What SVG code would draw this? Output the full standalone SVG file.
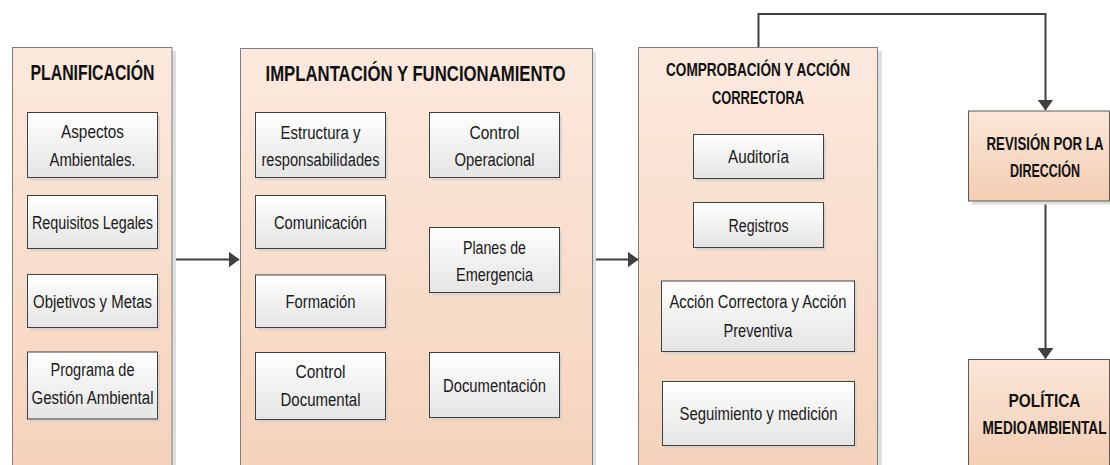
<svg xmlns="http://www.w3.org/2000/svg" width="1110" height="465" viewBox="0 0 1110 465">
<style>
.bg{fill:#ffffff}
.cont{fill:url(#gCont);stroke:#7f7f7f;stroke-width:1}
.csh{fill:#dedede}
.box{fill:url(#gBox);stroke:#404040;stroke-width:1}
.bsh{fill:#cfcfcf;opacity:0.7}
.pbox{fill:url(#gPeach);stroke:#5a5a5a;stroke-width:1}
.t{font-family:"Liberation Sans",Arial,sans-serif;font-size:18px;fill:#1a1a1a;text-anchor:middle}
.h{font-family:"Liberation Sans",Arial,sans-serif;font-weight:bold;fill:#111111;text-anchor:middle}
.h1{font-size:22px}
.h2{font-size:18px}
.conn{fill:none;stroke:#404040;stroke-width:2}
</style>
<defs>
<linearGradient id="gCont" x1="0" y1="0" x2="0" y2="1">
<stop offset="0" stop-color="#fce9de"/>
<stop offset="1" stop-color="#f5d3bc"/>
</linearGradient>
<linearGradient id="gBox" x1="0" y1="0" x2="0" y2="1">
<stop offset="0" stop-color="#ffffff"/>
<stop offset="1" stop-color="#e4e4e4"/>
</linearGradient>
<linearGradient id="gPeach" x1="0" y1="0" x2="0" y2="1">
<stop offset="0" stop-color="#fbe6d8"/>
<stop offset="1" stop-color="#f3cdb3"/>
</linearGradient>
<marker id="arr" markerUnits="userSpaceOnUse" markerWidth="11" markerHeight="16" viewBox="0 0 11 16" refX="10.5" refY="8" orient="auto">
<path d="M0,0 L11,8 L0,16 z" fill="#404040"/>
</marker>
</defs>
<rect class="bg" x="0" y="0" width="1110" height="465"/>

<g id="connectors">
<path class="conn" d="M172,259.5 H239" marker-end="url(#arr)"/>
<path class="conn" d="M593,259.5 H638" marker-end="url(#arr)"/>
<path class="conn" d="M758.5,47 V14 H1045.5 V110" marker-end="url(#arr)"/>
<path class="conn" d="M1045.5,201 V358.5" marker-end="url(#arr)"/>
</g>

<g id="planificacion">
<rect class="csh" x="16" y="51" width="160" height="420"/>
<rect class="cont" x="12.5" y="47.5" width="159.5" height="420"/>
<text class="h h1" x="92.5" y="79.5" textLength="124" lengthAdjust="spacingAndGlyphs">PLANIFICACIÓN</text>
<g id="aspectos">
<rect class="bsh" x="30" y="115.5" width="130" height="65"/>
<rect class="box" x="27.5" y="112.5" width="130" height="65"/>
<text class="t" x="92.5" y="138" textLength="63" lengthAdjust="spacingAndGlyphs">Aspectos</text>
<text class="t" x="92.5" y="166" textLength="86" lengthAdjust="spacingAndGlyphs">Ambientales.</text>
</g>
<g id="requisitos">
<rect class="bsh" x="30" y="198.5" width="130" height="53"/>
<rect class="box" x="27.5" y="195.5" width="130" height="53"/>
<text class="t" x="92.5" y="228.5" textLength="121" lengthAdjust="spacingAndGlyphs">Requisitos Legales</text>
</g>
<g id="objetivos">
<rect class="bsh" x="30" y="277.5" width="130" height="53"/>
<rect class="box" x="27.5" y="274.5" width="130" height="53"/>
<text class="t" x="92.5" y="307.5" textLength="119" lengthAdjust="spacingAndGlyphs">Objetivos y Metas</text>
</g>
<g id="programa">
<rect class="bsh" x="30" y="355" width="130" height="67"/>
<rect class="box" x="27.5" y="352" width="130" height="67"/>
<text class="t" x="92.5" y="376" textLength="84" lengthAdjust="spacingAndGlyphs">Programa de</text>
<text class="t" x="92.5" y="404" textLength="122" lengthAdjust="spacingAndGlyphs">Gestión Ambiental</text>
</g>
</g>

<g id="implantacion">
<rect class="csh" x="244" y="52" width="352" height="420"/>
<rect class="cont" x="240.5" y="48.5" width="352" height="420"/>
<text class="h h1" x="415.5" y="80.5" textLength="300" lengthAdjust="spacingAndGlyphs">IMPLANTACIÓN Y FUNCIONAMIENTO</text>
<g id="estructura">
<rect class="bsh" x="258" y="115.5" width="130" height="65"/>
<rect class="box" x="255.5" y="112.5" width="130" height="65"/>
<text class="t" x="320.5" y="139" textLength="80" lengthAdjust="spacingAndGlyphs">Estructura y</text>
<text class="t" x="320.5" y="166" textLength="118" lengthAdjust="spacingAndGlyphs">responsabilidades</text>
</g>
<g id="comunicacion">
<rect class="bsh" x="258" y="198.5" width="130" height="53"/>
<rect class="box" x="255.5" y="195.5" width="130" height="53"/>
<text class="t" x="320.5" y="228.5" textLength="93" lengthAdjust="spacingAndGlyphs">Comunicación</text>
</g>
<g id="formacion">
<rect class="bsh" x="258" y="278" width="130" height="52.5"/>
<rect class="box" x="255.5" y="275" width="130" height="52.5"/>
<text class="t" x="320.5" y="308" textLength="70" lengthAdjust="spacingAndGlyphs">Formación</text>
</g>
<g id="controldoc">
<rect class="bsh" x="258" y="355.5" width="130" height="67"/>
<rect class="box" x="255.5" y="352.5" width="130" height="67"/>
<text class="t" x="320.5" y="378" textLength="50" lengthAdjust="spacingAndGlyphs">Control</text>
<text class="t" x="320.5" y="406" textLength="80" lengthAdjust="spacingAndGlyphs">Documental</text>
</g>
<g id="controlop">
<rect class="bsh" x="432" y="115.5" width="130" height="65"/>
<rect class="box" x="429.5" y="112.5" width="130" height="65"/>
<text class="t" x="494.5" y="139" textLength="50" lengthAdjust="spacingAndGlyphs">Control</text>
<text class="t" x="494.5" y="166" textLength="80" lengthAdjust="spacingAndGlyphs">Operacional</text>
</g>
<g id="planes">
<rect class="bsh" x="432" y="230.5" width="130" height="65"/>
<rect class="box" x="429.5" y="227.5" width="130" height="65"/>
<text class="t" x="494.5" y="253.5" textLength="63" lengthAdjust="spacingAndGlyphs">Planes de</text>
<text class="t" x="494.5" y="281" textLength="77" lengthAdjust="spacingAndGlyphs">Emergencia</text>
</g>
<g id="documentacion">
<rect class="bsh" x="432" y="355.5" width="130" height="65"/>
<rect class="box" x="429.5" y="352.5" width="130" height="65"/>
<text class="t" x="494.5" y="392" textLength="103" lengthAdjust="spacingAndGlyphs">Documentación</text>
</g>
</g>

<g id="comprobacion">
<rect class="csh" x="642" y="51" width="240" height="420"/>
<rect class="cont" x="638.5" y="47.5" width="239" height="420"/>
<text class="h h2" x="758" y="76" textLength="184" lengthAdjust="spacingAndGlyphs">COMPROBACIÓN Y ACCIÓN</text>
<text class="h h2" x="758" y="104" textLength="92" lengthAdjust="spacingAndGlyphs">CORRECTORA</text>
<g id="auditoria">
<rect class="bsh" x="696" y="137.5" width="130" height="44"/>
<rect class="box" x="693.5" y="134.5" width="130" height="44"/>
<text class="t" x="758.5" y="163" textLength="61" lengthAdjust="spacingAndGlyphs">Auditoría</text>
</g>
<g id="registros">
<rect class="bsh" x="696" y="205.5" width="130" height="45"/>
<rect class="box" x="693.5" y="202.5" width="130" height="45"/>
<text class="t" x="758.5" y="231.5" textLength="60" lengthAdjust="spacingAndGlyphs">Registros</text>
</g>
<g id="accion">
<rect class="bsh" x="664" y="284" width="193" height="70.5"/>
<rect class="box" x="661.5" y="281" width="193" height="70.5"/>
<text class="t" x="758" y="308" textLength="177" lengthAdjust="spacingAndGlyphs">Acción Correctora y Acción</text>
<text class="t" x="758" y="336.5" textLength="69" lengthAdjust="spacingAndGlyphs">Preventiva</text>
</g>
<g id="seguimiento">
<rect class="bsh" x="665" y="384.5" width="192" height="64"/>
<rect class="box" x="662.5" y="381.5" width="192" height="64"/>
<text class="t" x="758.5" y="420" textLength="158" lengthAdjust="spacingAndGlyphs">Seguimiento y medición</text>
</g>
</g>

<g id="revision">
<rect class="csh" x="972" y="114.5" width="140" height="90"/>
<rect class="pbox" x="968.5" y="111" width="141" height="90"/>
<text class="h h2" x="1045" y="150" textLength="117" lengthAdjust="spacingAndGlyphs">REVISIÓN POR LA</text>
<text class="h h2" x="1045" y="177" textLength="70" lengthAdjust="spacingAndGlyphs">DIRECCIÓN</text>
</g>

<g id="politica">
<rect class="csh" x="972" y="363" width="140" height="110"/>
<rect class="pbox" x="968.5" y="359.5" width="141" height="110"/>
<text class="h h2" x="1044.5" y="406.5" textLength="72" lengthAdjust="spacingAndGlyphs">POLÍTICA</text>
<text class="h h2" x="1044.5" y="434" textLength="124" lengthAdjust="spacingAndGlyphs">MEDIOAMBIENTAL</text>
</g>
</svg>
